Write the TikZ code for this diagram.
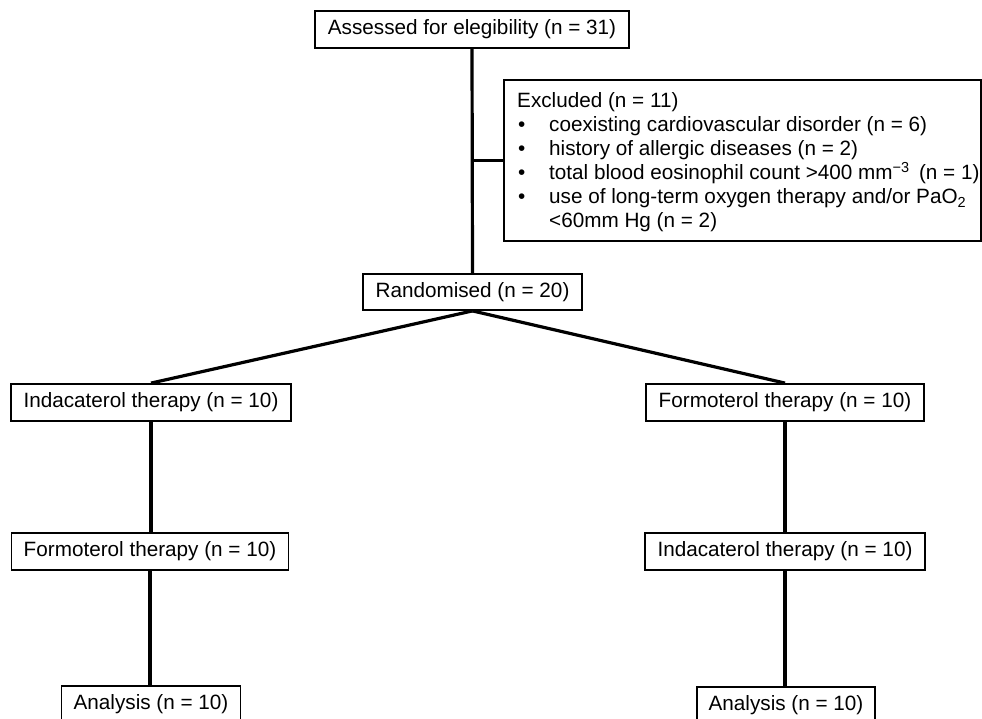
\documentclass[tikz,border=0pt]{standalone}
\usepackage{fontspec}
\setmainfont{Liberation Sans}
\begin{document}
\begin{tikzpicture}[x=1pt,y=-1pt,
  box/.style={draw=black,line width=1.8pt,rectangle,inner sep=0pt,
    font=\fontsize{20.7}{24}\selectfont,minimum height=37pt},
  txt/.style={inner sep=0pt,anchor=base west,font=\fontsize{20.7}{24}\selectfont},
  conn/.style={line width=3.2pt,black}]
\useasboundingbox (0,0) rectangle (982,719);
\clip (0,0) rectangle (982,719);
% boxes
\node[box,minimum width=314pt] (top) at (472,29.5) {Assessed for elegibility (n = 31)};
\node[box,minimum width=477pt,minimum height=161pt] (excl) at (742.5,160.5) {};
\node[box,minimum width=219pt,minimum height=36pt] (rand) at (472.5,292) {Randomised (n = 20)};
\node[box,minimum width=280pt] (ind1) at (151,402.5) {Indacaterol therapy (n = 10)};
\node[box,minimum width=278pt] (for1) at (785,402.5) {Formoterol therapy (n = 10)};
\node[box,minimum width=277pt] (for2) at (150,551.5) {Formoterol therapy (n = 10)};
\node[box,minimum width=280pt] (ind2) at (785,551.5) {Indacaterol therapy (n = 10)};
\node[box,minimum width=179pt] (an1) at (151,704.5) {Analysis (n = 10)};
\node[box,minimum width=178pt] (an2) at (786,705.5) {Analysis (n = 10)};
% excluded text
\node[txt] (ex0) at (517,108) {Excluded (n = 11)};
\node[txt] (b1) at (518,132) {•};
\node[txt] (ex1) at (549,132) {coexisting cardiovascular disorder (n = 6)};
\node[txt] (b2) at (518,156) {•};
\node[txt] (ex2) at (549,156) {history of allergic diseases (n = 2)};
\node[txt] (b3) at (518,180) {•};
\node[txt] (ex3) at (549,180) {total blood eosinophil count >400 mm\textsuperscript{−3}\hspace{0.45em}(n = 1)};
\node[txt] (b4) at (518,204) {•};
\node[txt] (ex4) at (549,204) {use of long-term oxygen therapy and/or PaO\textsubscript{2}};
\node[txt] (ex5) at (549,228) {<60mm Hg (n = 2)};
% connectors
\draw[conn] (top.south) -- (rand.north);
\draw[conn] (top.south |- excl.west) -- (excl.west);
\draw[conn] (rand.south) -- (ind1.north);
\draw[conn] (rand.south) -- (for1.north);
\draw[conn] (ind1.south) -- (ind1.south |- for2.north);
\draw[conn] (for1.south) -- (for1.south |- ind2.north);
\draw[conn] (for2.south) -- (for2.south |- an1.north);
\draw[conn] (ind2.south) -- (ind2.south |- an2.north);
\end{tikzpicture}
\end{document}
